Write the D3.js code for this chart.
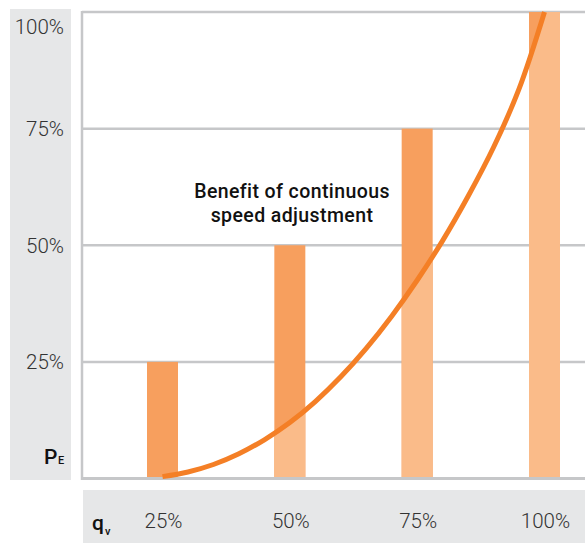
<!DOCTYPE html>
<html>
<head>
<meta charset="utf-8">
<script src="https://cdn.jsdelivr.net/npm/d3@7"></script>
<style>
  html, body { margin: 0; padding: 0; background: #fff; }
  svg { display: block; }
  text { font-family: Roboto, "Noto Sans", sans-serif; }
</style>
</head>
<body>
<svg id="chart" width="585" height="543"></svg>
<script>
// ---- data ----
const categories = ["25%", "50%", "75%", "100%"];
const flowValues = [25, 50, 75, 100];          // q_v position of each bar (%)
const powerBars = [25, 50, 75, 100];           // bar height P_E (%) - throttled control
const yTicks = [25, 50, 75, 100];
const yTickLabels = ["25%", "50%", "75%", "100%"];
// continuous speed adjustment curve
const curveQ = [25, 30, 35, 40, 45, 50, 55, 60, 65, 70, 75, 80, 85, 90, 95, 100];
const curveP = [0.4, 1.4, 3.0, 5.3, 8.3, 12.0, 16.5, 21.8, 27.9, 34.8, 42.5, 51.0, 60.5, 71.0, 83.5, 100];
const titleLines = ["Benefit of continuous", "speed adjustment"];

// ---- layout ----
const W = 585, H = 543;
const plotLeft = 82, plotRight = 585;
const svg = d3.select("#chart");

const x = d3.scaleLinear().domain([25, 100]).range([162.5, 544.5]);
const y = d3.scaleLinear().domain([0, 100]).range([478.5, 12]);
const barW = 31;

const darkBar = "#F79F5E", lightBar = "#FABB89", curveCol = "#F47F26";
const gridCol = "#C6C7C9", panelCol = "#E6E7E8";

// panels
svg.append("rect").attr("x", 10).attr("y", 9).attr("width", 61).attr("height", 471).attr("fill", panelCol);
svg.append("rect").attr("x", 83).attr("y", 490).attr("width", W - 83).attr("height", H - 490).attr("fill", panelCol);

// gridlines
svg.append("g").selectAll("line").data([0].concat(yTicks)).join("line")
  .attr("x1", plotLeft).attr("x2", plotRight)
  .attr("y1", d => y(d)).attr("y2", d => y(d))
  .attr("stroke", gridCol).attr("stroke-width", d => d === 0 ? 3 : 2.5);

// clip region: below the curve (and to its right)
const pts = curveQ.map((q, i) => [x(q), y(curveP[i])]);
const line = d3.line().curve(d3.curveCatmullRom.alpha(0.5));
const last = pts[pts.length - 1];
const belowPath = line(pts) + `L${plotRight},${last[1] - 5}L${plotRight},${y(0)}L${pts[0][0]},${y(0)}Z`;
svg.append("clipPath").attr("id", "below").append("path").attr("d", belowPath);

const bars = flowValues.map((q, i) => ({ q, p: powerBars[i] }));
svg.append("g").selectAll("rect").data(bars).join("rect")
  .attr("x", d => x(d.q) - barW / 2).attr("width", barW)
  .attr("y", d => y(d.p)).attr("height", d => y(0) - 1.5 - y(d.p))
  .attr("fill", darkBar);
svg.append("g").attr("clip-path", "url(#below)").selectAll("rect").data(bars).join("rect")
  .attr("x", d => x(d.q) - barW / 2).attr("width", barW)
  .attr("y", d => y(d.p)).attr("height", d => y(0) - 1.5 - y(d.p))
  .attr("fill", lightBar);

// left frame line
svg.append("line").attr("x1", plotLeft).attr("x2", plotLeft).attr("y1", y(100) - 1).attr("y2", y(0) + 1.5)
  .attr("stroke", gridCol).attr("stroke-width", 2.5);

// curve
svg.append("path").attr("d", line(pts)).attr("fill", "none")
  .attr("stroke", curveCol).attr("stroke-width", 5);

// y labels
svg.append("g").selectAll("text").data(yTicks).join("text")
  .attr("x", 64).attr("y", d => Math.max(y(d), 26.5))
  .attr("dy", "0.36em").attr("text-anchor", "end")
  .attr("font-size", 20.5).attr("font-weight", 300).attr("fill", "#333")
  .text((d, i) => yTickLabels[i]);

// x labels
svg.append("g").selectAll("text").data(flowValues).join("text")
  .attr("x", d => x(d) + 1).attr("y", 528)
  .attr("text-anchor", "middle")
  .attr("font-size", 20.5).attr("font-weight", 300).attr("fill", "#333")
  .text((d, i) => categories[i]);

// axis names
const pe = svg.append("text").attr("x", 44).attr("y", 463.5).attr("fill", "#111").attr("font-weight", 500);
pe.append("tspan").attr("font-size", 21).text("P");
pe.append("tspan").attr("font-size", 11).attr("dx", 0.5).attr("dy", 0.5).text("E");
const qv = svg.append("text").attr("x", 92).attr("y", 530).attr("fill", "#111").attr("font-weight", 500);
qv.append("tspan").attr("font-size", 21).text("q");
qv.append("tspan").attr("font-size", 11).attr("dx", 1).attr("dy", 5).text("v");

// annotation
svg.append("text").attr("x", 292).attr("y", 198).attr("text-anchor", "middle")
  .attr("font-size", 19.5).attr("font-weight", 500).attr("fill", "#111").attr("letter-spacing", 0.4)
  .selectAll("tspan").data(titleLines).join("tspan")
  .attr("x", 292).attr("dy", (d, i) => i === 0 ? 0 : 24).text(d => d);
</script>
</body>
</html>
